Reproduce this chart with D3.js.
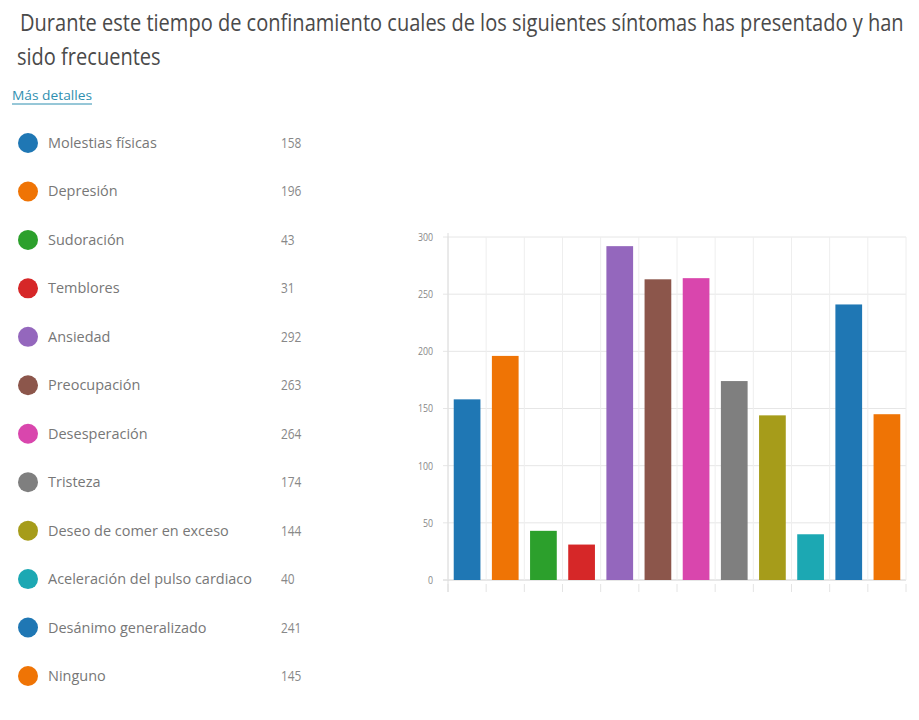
<!DOCTYPE html>
<html>
<head>
<meta charset="utf-8">
<script src="https://cdn.jsdelivr.net/npm/d3@7"></script>
<style>
  body { margin: 0; background: #fff; }
  svg { font-family: "Open Sans", "Noto Sans", sans-serif; }
</style>
</head>
<body>
<div id="chart"></div>
<script>
// Chart data
const categories = ["Molestias físicas", "Depresión", "Sudoración", "Temblores", "Ansiedad",
  "Preocupación", "Desesperación", "Tristeza", "Deseo de comer en exceso",
  "Aceleración del pulso cardiaco", "Desánimo generalizado", "Ninguno"];
const counts = [158, 196, 43, 31, 292, 263, 264, 174, 144, 40, 241, 145];
const colors = ["#1f77b4", "#ef7405", "#2ca02c", "#d62728", "#9467bd", "#8c564b",
  "#d946ad", "#7f7f7f", "#a69c1a", "#1ca8b3", "#1f77b4", "#ef7405"];
const yTicks = [0, 50, 100, 150, 200, 250, 300];
const titleLines = ["Durante este tiempo de confinamiento cuales de los siguientes síntomas has presentado y han",
  "sido frecuentes"];

const width = 919, height = 720;

const svg = d3.select("#chart")
  .append("svg")
  .attr("width", width)
  .attr("height", height);

// Title: the screenshot font is narrow, so size the text to fit the width
// and stretch it back up vertically
const titleFont = 23;
const titleText = titleLines.map((t, i) =>
  svg.append("text")
    .attr("font-size", titleFont)
    .attr("fill", "#4a4a4a")
    .text(t)
);
const natural = titleText[0].node().getComputedTextLength();
const fs = titleFont * 884 / natural;
titleText.forEach((el, i) => {
  el.attr("font-size", fs)
    .attr("transform", `translate(${i === 0 ? 20 : 17}, ${31 + i * 34}) scale(1, ${titleFont / fs})`);
});

// "Más detalles" link
svg.append("text")
  .attr("x", 12)
  .attr("y", 100)
  .attr("font-size", 13)
  .attr("fill", "#2f8fb0")
  .attr("textLength", 80)
  .attr("lengthAdjust", "spacingAndGlyphs")
  .text("Más detalles");
svg.append("line")
  .attr("x1", 12).attr("x2", 92)
  .attr("y1", 104).attr("y2", 104)
  .attr("stroke", "#2f8fb0")
  .attr("stroke-width", 1);

// Legend
const legendY = d3.scalePoint()
  .domain(categories)
  .range([143, 676]);

const rows = svg.append("g")
  .selectAll("g.row")
  .data(categories)
  .enter()
  .append("g")
  .attr("class", "row")
  .attr("transform", d => `translate(0, ${legendY(d)})`);

rows.append("circle")
  .attr("cx", 28)
  .attr("cy", 0)
  .attr("r", 10)
  .attr("fill", (d, i) => colors[i]);

const labels = rows.append("text")
  .attr("x", 48)
  .attr("y", 5)
  .attr("font-size", 14)
  .attr("fill", "#777")
  .text(d => d);

// squeeze legend labels like the screenshot (longest label is ~204px wide)
const longest = labels.filter(d => d === "Aceleración del pulso cardiaco").node().getComputedTextLength();
const squeeze = 204 / longest;
labels.each(function () {
  const w = this.getComputedTextLength();
  d3.select(this)
    .attr("textLength", w * squeeze)
    .attr("lengthAdjust", "spacingAndGlyphs");
});

rows.append("text")
  .attr("x", 281)
  .attr("y", 5)
  .attr("font-size", 14)
  .attr("fill", "#888")
  .text((d, i) => counts[i])
  .each(function () {
    const w = this.getComputedTextLength();
    d3.select(this)
      .attr("textLength", w * 0.85)
      .attr("lengthAdjust", "spacingAndGlyphs");
  });

// Bar chart
const x = d3.scaleBand()
  .domain(categories)
  .range([448, 906])
  .paddingInner(0.3)
  .paddingOuter(0.15);

const y = d3.scaleLinear()
  .domain([0, 300])
  .range([580, 237]);

// horizontal grid lines
svg.append("g")
  .selectAll("line")
  .data(yTicks)
  .enter()
  .append("line")
  .attr("x1", 443)
  .attr("x2", 906)
  .attr("y1", d => y(d))
  .attr("y2", d => y(d))
  .attr("stroke", d => d === 0 ? "#d0d0d0" : "#e6e6e6")
  .attr("stroke-width", 1);

// vertical grid lines at band edges
const edges = d3.range(categories.length + 1).map(i => 448 + i * x.step());
svg.append("g")
  .selectAll("line")
  .data(edges)
  .enter()
  .append("line")
  .attr("x1", d => d)
  .attr("x2", d => d)
  .attr("y1", 237)
  .attr("y2", 580)
  .attr("stroke", "#eeeeee")
  .attr("stroke-width", 1);

// small ticks under the baseline
svg.append("g")
  .selectAll("line")
  .data(edges)
  .enter()
  .append("line")
  .attr("x1", d => d)
  .attr("x2", d => d)
  .attr("y1", 584)
  .attr("y2", 592)
  .attr("stroke", "#e4e4e4")
  .attr("stroke-width", 1);

// y axis line
svg.append("line")
  .attr("x1", 448).attr("x2", 448)
  .attr("y1", 233).attr("y2", 592)
  .attr("stroke", "#dcdcdc")
  .attr("stroke-width", 1);

// y tick labels
svg.append("g")
  .selectAll("text")
  .data(yTicks)
  .enter()
  .append("text")
  .attr("x", 433)
  .attr("y", d => y(d) + 4)
  .attr("text-anchor", "end")
  .attr("font-size", 11)
  .attr("fill", "#888")
  .attr("transform", "translate(433, 0) scale(0.8, 1) translate(-433, 0)")
  .text(d => d);

// bars
svg.append("g")
  .selectAll("rect")
  .data(counts)
  .enter()
  .append("rect")
  .attr("x", (d, i) => x(categories[i]))
  .attr("y", d => y(d))
  .attr("width", x.bandwidth())
  .attr("height", d => y(0) - y(d))
  .attr("fill", (d, i) => colors[i]);
</script>
</body>
</html>
